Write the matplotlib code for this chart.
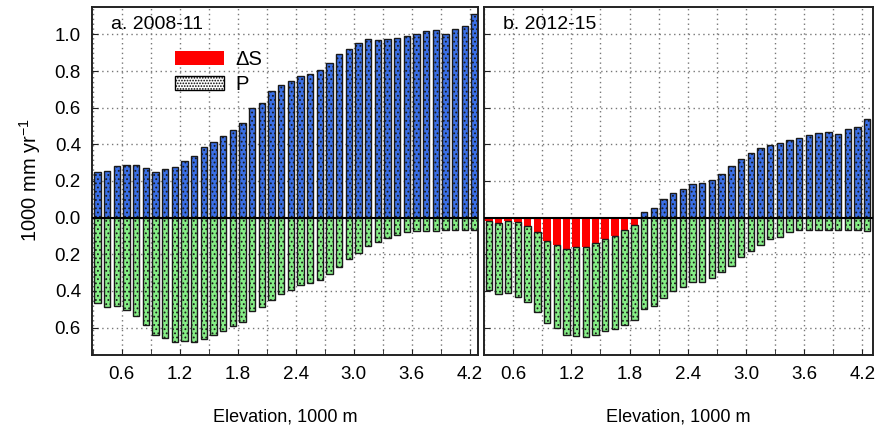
import matplotlib
matplotlib.use("Agg")
import matplotlib.pyplot as plt
from matplotlib.patches import Patch
from matplotlib.ticker import MultipleLocator, FuncFormatter
import numpy as np

plt.rcParams['font.family'] = ['Liberation Sans', 'DejaVu Sans']
plt.rcParams['mathtext.fontset'] = 'custom'
plt.rcParams['mathtext.rm'] = 'Liberation Sans'
plt.rcParams['mathtext.default'] = 'rm'
plt.rcParams['hatch.linewidth'] = 0.8

# elevation bin centres, 1000 m
elev = [0.35, 0.45, 0.55, 0.65, 0.75, 0.85, 0.95, 1.05, 1.15, 1.25,
        1.35, 1.45, 1.55, 1.65, 1.75, 1.85, 1.95, 2.05, 2.15, 2.25,
        2.35, 2.45, 2.55, 2.65, 2.75, 2.85, 2.95, 3.05, 3.15, 3.25,
        3.35, 3.45, 3.55, 3.65, 3.75, 3.85, 3.95, 4.05, 4.15, 4.25]

# panel a, 2008-11 (1000 mm/yr)
upper_a = [0.25, 0.255, 0.28, 0.29, 0.29, 0.273, 0.25, 0.267, 0.274, 0.308,
           0.339, 0.385, 0.414, 0.446, 0.476, 0.514, 0.596, 0.626, 0.689, 0.723,
           0.748, 0.771, 0.786, 0.807, 0.843, 0.891, 0.918, 0.952, 0.975, 0.97,
           0.975, 0.982, 0.991, 1.004, 1.021, 1.025, 1.004, 1.029, 1.048, 1.113]
lower_a = [0.467, 0.49, 0.483, 0.502, 0.539, 0.587, 0.643, 0.659, 0.681, 0.674,
           0.678, 0.663, 0.643, 0.619, 0.593, 0.569, 0.509, 0.487, 0.448, 0.417,
           0.394, 0.37, 0.359, 0.339, 0.309, 0.269, 0.224, 0.191, 0.157, 0.131,
           0.113, 0.094, 0.081, 0.074, 0.072, 0.072, 0.07, 0.07, 0.07, 0.07]

# panel b, 2012-15
upper_b = [0, 0, 0, 0, 0, 0, 0, 0, 0, 0,
           0, 0, 0, 0, 0, 0, 0.031, 0.055, 0.101, 0.134,
           0.155, 0.181, 0.187, 0.206, 0.24, 0.281, 0.319, 0.351, 0.38, 0.396,
           0.408, 0.424, 0.437, 0.45, 0.46, 0.466, 0.458, 0.482, 0.496, 0.539]
ds_b = [0.019, 0.03, 0.019, 0.026, 0.043, 0.081, 0.13, 0.148, 0.17, 0.163,
        0.161, 0.139, 0.117, 0.098, 0.069, 0.039, 0, 0, 0, 0,
        0, 0, 0, 0, 0, 0, 0, 0, 0, 0,
        0, 0, 0, 0, 0, 0, 0, 0, 0, 0]
lower_b = [0.393, 0.417, 0.411, 0.431, 0.463, 0.513, 0.574, 0.602, 0.639, 0.644,
           0.652, 0.643, 0.62, 0.607, 0.585, 0.557, 0.5, 0.481, 0.441, 0.402,
           0.381, 0.354, 0.35, 0.331, 0.298, 0.263, 0.217, 0.181, 0.148, 0.119,
           0.107, 0.081, 0.07, 0.069, 0.07, 0.07, 0.067, 0.069, 0.069, 0.074]

blue = '#3a6fe6'
green = '#86ee86'
red = '#ff0000'
w = 0.066

fig = plt.figure(figsize=(8.78, 4.29), dpi=100)
ax_a = fig.add_axes([92 / 878, 1 - 355 / 429, 386 / 878, 348 / 429])
ax_b = fig.add_axes([484 / 878, 1 - 355 / 429, 389 / 878, 348 / 429])


def panel(ax, up, low, ds, title, xlim):
    up = np.array(up)
    low = np.array(low)
    ds = np.array(ds)
    ax.set_axisbelow(True)
    ax.bar(elev, up, width=w, color=blue, edgecolor='#1a1a1a', linewidth=1,
           hatch='....', zorder=2)
    ax.bar(elev, -ds, width=w + 0.012, color=red, linewidth=0, zorder=2)
    ax.bar(elev, -(low - ds), bottom=-ds, width=w, color=green,
           edgecolor='#1a1a1a', linewidth=1, hatch='....', zorder=2)
    ax.axhline(0, color='black', lw=1.5, zorder=3)
    ax.set_xlim(*xlim)
    ax.set_ylim(-0.75, 1.15)
    ax.xaxis.set_major_locator(MultipleLocator(0.6))
    ax.xaxis.set_minor_locator(MultipleLocator(0.3))
    ax.yaxis.set_major_locator(MultipleLocator(0.2))
    ax.xaxis.set_major_formatter(FuncFormatter(lambda v, p: f"{v:.1f}"))
    ax.yaxis.set_major_formatter(FuncFormatter(lambda v, p: f"{abs(v):.1f}"))
    ax.grid(True, which='both', linestyle=(0, (1, 2.5)), color='#777777', lw=1)
    ax.tick_params(axis='both', which='both', direction='in', length=4,
                   labelsize=13.5, pad=8, color='#222222')
    ax.tick_params(axis='x', which='minor', length=4)
    for s in ax.spines.values():
        s.set_linewidth(1.4)
        s.set_color('#222222')
    ax.text(0.05, 0.951, title, transform=ax.transAxes, fontsize=14,
            va='center', ha='left')
    ax.set_xlabel('Elevation, 1000 m', fontsize=13, labelpad=18)


panel(ax_a, upper_a, lower_a, [0] * 40, 'a. 2008-11', (0.293, 4.285))
panel(ax_b, upper_b, lower_b, ds_b, 'b. 2012-15', (0.30, 4.31))
ax_b.tick_params(axis='y', labelleft=False)

handles = [Patch(facecolor=red, edgecolor='none', label='ΔS'),
           Patch(facecolor='white', edgecolor='black', hatch='......', label='P')]
ax_a.legend(handles=handles, loc='upper left', bbox_to_anchor=(0.194, 0.90),
            borderaxespad=0, frameon=False, fontsize=14.5, handlelength=2.45,
            handleheight=0.7, labelspacing=0.3, handletextpad=0.55)

fig.text(30 / 878, 1 - 180 / 429, '1000 mm yr$^{-1}$', rotation=90,
         ha='center', va='center', fontsize=14.5)

fig.savefig('out.png', dpi=100)
